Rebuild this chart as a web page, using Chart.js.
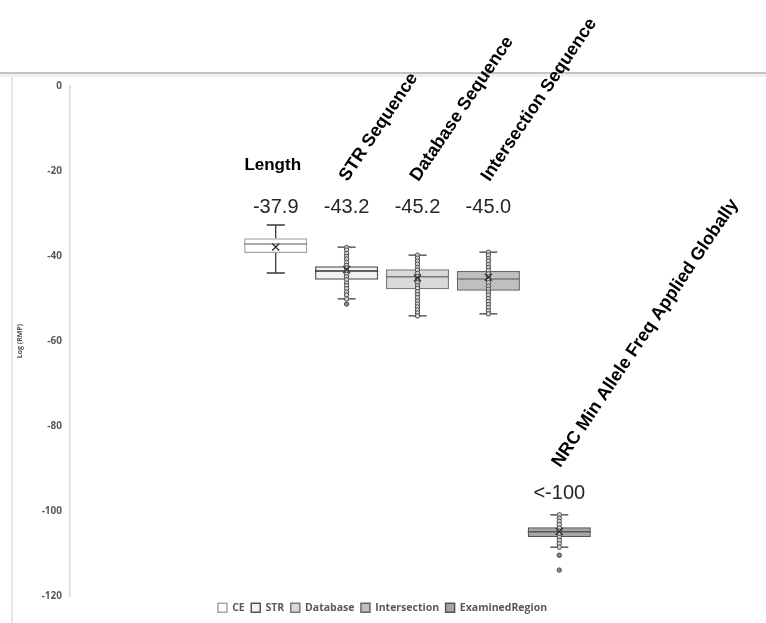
<!DOCTYPE html>
<html>
<head>
<meta charset="utf-8">
<script src="https://cdn.jsdelivr.net/npm/chart.js@4.4.1/dist/chart.umd.min.js"></script>
<style>
html, body { margin: 0; padding: 0; background: #fff; }
#wrap { width: 766px; height: 623px; }
</style>
</head>
<body>
<div id="wrap"><canvas id="rmpChart"></canvas></div>
<script>
// series, one box each
const seriesNames = ['CE', 'STR', 'Database', 'Intersection', 'ExaminedRegion'];
const whiskerHigh = [-32.7, -37.9, -39.8, -39.1, -100.9];
const q3 = [-35.8, -42.4, -43.1, -43.5, -103.8];
const medians = [-37.2, -43.5, -44.9, -45.4, -104.9];
const q1 = [-39.3, -45.6, -47.8, -48.2, -106.1];
const whiskerLow = [-44.0, -50.1, -54.1, -53.6, -108.5];
const means = [-37.9, -43.2, -45.2, -45.0, -104.8];

// individual observations drawn over the boxes
const ceCalls = [];
const strCalls = [-38.0, -38.6, -39.4, -40.1, -40.7, -41.5, -42.2, -42.8, -43.5, -44.3, -44.9, -45.6, -46.4, -47.0, -47.7, -48.5, -49.2, -50.1, -51.3];
const dbCalls = [-39.8, -40.5, -41.2, -41.9, -42.7, -43.3, -44.1, -44.8, -45.5, -46.3, -47.0, -47.6, -48.4, -49.1, -49.8, -50.6, -51.3, -52.0, -52.7, -53.4, -54.1];
const intCalls = [-39.1, -39.8, -40.6, -41.2, -42.0, -42.7, -43.4, -44.2, -44.9, -45.6, -46.3, -47.1, -47.8, -48.5, -49.2, -50.0, -50.7, -51.4, -52.1, -52.9, -53.6];
const nrcCalls = [-100.9, -101.7, -102.4, -103.2, -104.0, -104.7, -105.4, -106.2, -106.9, -107.7, -108.5, -110.4, -113.9];
const calls = [ceCalls, strCalls, dbCalls, intCalls, nrcCalls];

const titles = ['Length', 'STR Sequence', 'Database Sequence', 'Intersection Sequence', 'NRC Min Allele Freq Applied Globally'];
const valueLabels = ['-37.9', '-43.2', '-45.2', '-45.0', '<-100'];
const yMin = -120, yMax = 0, yStep = 20;

const fills = ['#ffffff', '#f2f2f2', '#d9d9d9', '#bfbfbf', '#a6a6a6'];
const edges = ['#a6a6a6', '#555555', '#7a7a7a', '#666666', '#555555'];
const medianColors = ['#8c8c8c', '#333333', '#777777', '#777777', '#555555'];
const labelLevel = [-27.8, -27.8, -27.8, -27.8, -95.1];

const boxParts = {
  id: 'boxParts',
  beforeDraw(chart) {
    const c = chart.ctx;
    c.save();
    c.fillStyle = '#c4c4c4';
    c.fillRect(0, 72, chart.width, 2);
    c.fillStyle = '#f0f0f0';
    c.fillRect(0, 74, chart.width, 3);
    c.fillStyle = '#e6e6e6';
    c.fillRect(11, 77, 2, chart.height - 77);
    c.restore();
  },
  afterDatasetsDraw(chart) {
    const c = chart.ctx;
    const y = chart.scales.y;
    c.save();
    chart.data.datasets.forEach((ds, i) => {
      const bar = chart.getDatasetMeta(i).data[0];
      const x = bar.x, half = bar.width / 2, cap = 9;

      // whiskers
      c.strokeStyle = '#3a3a3a';
      c.lineWidth = 1.3;
      c.beginPath();
      c.moveTo(x, y.getPixelForValue(whiskerHigh[i]));
      c.lineTo(x, y.getPixelForValue(q3[i]));
      c.moveTo(x, y.getPixelForValue(q1[i]));
      c.lineTo(x, y.getPixelForValue(whiskerLow[i]));
      c.moveTo(x - cap, y.getPixelForValue(whiskerHigh[i]));
      c.lineTo(x + cap, y.getPixelForValue(whiskerHigh[i]));
      c.moveTo(x - cap, y.getPixelForValue(whiskerLow[i]));
      c.lineTo(x + cap, y.getPixelForValue(whiskerLow[i]));
      c.stroke();

      // median
      c.strokeStyle = medianColors[i];
      c.lineWidth = 1.5;
      c.beginPath();
      c.moveTo(x - half, y.getPixelForValue(medians[i]));
      c.lineTo(x + half, y.getPixelForValue(medians[i]));
      c.stroke();

      // points
      c.lineWidth = 1;
      calls[i].forEach(v => {
        const py = y.getPixelForValue(v);
        const out = v > whiskerHigh[i] || v < whiskerLow[i];
        c.beginPath();
        c.arc(x, py, 2.2, 0, Math.PI * 2);
        c.fillStyle = out ? '#8a8a8a' : '#d4d4d4';
        c.fill();
        c.strokeStyle = '#4a4a4a';
        c.stroke();
      });

      // mean
      const my = y.getPixelForValue(means[i]);
      c.strokeStyle = '#333';
      c.lineWidth = 1.4;
      c.beginPath();
      c.moveTo(x - 3.5, my - 3.5); c.lineTo(x + 3.5, my + 3.5);
      c.moveTo(x + 3.5, my - 3.5); c.lineTo(x - 3.5, my + 3.5);
      c.stroke();

      // annotations
      const ly = y.getPixelForValue(labelLevel[i]) + 3;
      c.fillStyle = '#262626';
      c.font = '20px "Liberation Sans", Arial, sans-serif';
      c.textAlign = 'center';
      c.textBaseline = 'middle';
      c.fillText(valueLabels[i], x, ly);
      c.fillStyle = '#000';
      c.textBaseline = 'alphabetic';
      if (i === 0) {
        c.font = 'bold 17px "Liberation Sans", Arial, sans-serif';
        c.fillText(titles[i], x - 3, ly - 37);
      } else {
        c.font = 'bold 18px "Liberation Sans", Arial, sans-serif';
        c.save();
        c.translate(x + 1, ly - 25);
        c.rotate(-56 * Math.PI / 180);
        c.textAlign = 'left';
        c.fillText(titles[i], 0, 0);
        c.restore();
      }
    });
    c.restore();
  }
};

const datasets = seriesNames.map((name, i) => ({
  label: name,
  data: [[q1[i], q3[i]]],
  backgroundColor: fills[i],
  borderColor: edges[i],
  borderWidth: 1.5,
  borderSkipped: false,
  categoryPercentage: 0.51,
  barPercentage: 0.89
}));

new Chart(document.getElementById('rmpChart'), {
  type: 'bar',
  data: { labels: [''], datasets: datasets },
  plugins: [boxParts],
  options: {
    responsive: true,
    maintainAspectRatio: false,
    animation: false,
    layout: { padding: { top: 86, right: 1, left: 0, bottom: 0 } },
    plugins: {
      tooltip: { enabled: false },
      legend: {
        position: 'bottom',
        labels: {
          boxWidth: 9,
          boxHeight: 9,
          padding: 6.5,
          color: '#595959',
          font: { family: '"Open Sans", sans-serif', size: 10.5, weight: 'bold' }
        }
      }
    },
    scales: {
      x: { display: false },
      y: {
        min: yMin,
        max: yMax,
        afterFit(scale) { scale.width = 70; },
        grid: { display: false, drawTicks: false },
        border: { display: true, color: '#d9d9d9', width: 1.5 },
        ticks: {
          stepSize: yStep,
          padding: 8,
          color: '#595959',
          font: { family: '"Open Sans", sans-serif', size: 10, weight: 'bold' }
        },
        title: {
          display: true,
          text: 'Log (RMP)',
          color: '#595959',
          padding: { top: 16, bottom: 0 },
          font: { family: '"Open Sans", sans-serif', size: 7, weight: 'bold' }
        }
      }
    }
  }
});
</script>
</body>
</html>
